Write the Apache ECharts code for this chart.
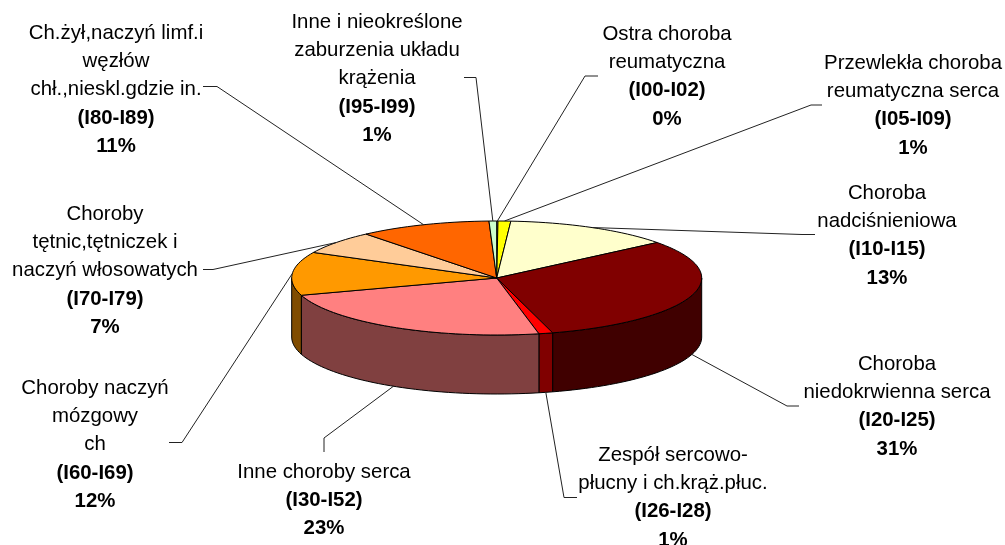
<!DOCTYPE html>
<html>
<head>
<meta charset="utf-8">
<style>
  html, body { margin: 0; padding: 0; background: #fff; }
  #pie-chart { width: 1005px; height: 545px; }
</style>
</head>
<body>
<div id="pie-chart"></div>
<script src="https://cdn.jsdelivr.net/npm/echarts@6/dist/echarts.min.js"></script>
<script>
// clockwise from 12 o'clock
const codes = ['(I00-I02)', '(I05-I09)', '(I10-I15)', '(I20-I25)', '(I26-I28)', '(I30-I52)', '(I60-I69)', '(I70-I79)', '(I80-I89)', '(I95-I99)']
const names = [
  ['Ostra choroba', 'reumatyczna'],
  ['Przewlekła choroba', 'reumatyczna serca'],
  ['Choroba', 'nadciśnieniowa'],
  ['Choroba', 'niedokrwienna serca'],
  ['Zespół sercowo-', 'płucny i ch.krąż.płuc.'],
  ['Inne choroby serca'],
  ['Choroby naczyń', 'mózgowy', 'ch'],
  ['Choroby', 'tętnic,tętniczek i', 'naczyń włosowatych'],
  ['Ch.żył,naczyń limf.i', 'węzłów', 'chł.,nieskl.gdzie in.'],
  ['Inne i nieokreślone', 'zaburzenia układu', 'krążenia']
]
const shares = [0.1, 1.0, 13.2, 31.3, 1.1, 23.4, 12.3, 6.6, 10.4, 0.6]
const percents = ['0%', '1%', '13%', '31%', '1%', '23%', '12%', '7%', '11%', '1%']

const topColors = ['#FFFFFF', '#FFFF00', '#FFFFCC', '#800000', '#FF0000', '#FF8080', '#FF9900', '#FFCC99', '#FF6600', '#CCFFCC']
const sideColors = ['#808080', '#808000', '#808066', '#400000', '#800000', '#804040', '#804C00', '#806633', '#803300', '#668066']

// label block: centre x, centre y of first line / leader: elbow then tail end
const labelPos = [[667, 34], [913, 63], [887, 193], [897, 364], [673, 455], [324, 472], [95, 388], [105, 214], [116, 33], [377, 22]]
const leaderPos = [
  [[585, 76], [598, 76]],
  [[811, 105], [822, 105]],
  [[802, 234.5], [815, 234.5]],
  [[787, 406], [799, 406]],
  [[564, 497.5], [577, 497.5]],
  [[324, 438], [324, 452]],
  [[182, 442.5], [169, 442.5]],
  [[213, 269.5], [203, 269.5]],
  [[217, 86.5], [203, 86.5]],
  [[476, 77.5], [464, 77.5]]
]
const lineGap = 28.3
const depth = 59
const fontFamily = '"Liberation Sans", Arial, sans-serif'

const total = shares.reduce((a, b) => a + b, 0)
const angles = []
shares.reduce((sum, v) => {
  angles.push([sum / total * 360, (sum + v) / total * 360])
  return sum + v
}, 0)

// rim point on the unit circle, the squashed axes turn it into an ellipse
function rim (api, deg) {
  const r = deg * Math.PI / 180
  return api.coord([Math.sin(r), Math.cos(r)])
}

function arc (api, from, to) {
  const pts = []
  const n = Math.max(2, Math.ceil((to - from) / 2))
  for (let i = 0; i <= n; i++) pts.push(rim(api, from + (to - from) * i / n))
  return pts
}

function renderSlice (params, api) {
  const i = params.dataIndex
  const [a0, a1] = angles[i]
  const children = []
  const s0 = Math.max(a0, 90)
  const s1 = Math.min(a1, 270)
  if (s1 > s0) {
    const upper = arc(api, s0, s1)
    const lower = upper.map(p => [p[0], p[1] + depth]).reverse()
    children.push({
      type: 'polygon',
      shape: { points: upper.concat(lower) },
      style: { fill: sideColors[i], stroke: '#000', lineWidth: 1, lineJoin: 'round' }
    })
  }
  children.push({
    type: 'polygon',
    shape: { points: [api.coord([0, 0])].concat(arc(api, a0, a1)) },
    style: { fill: topColors[i], stroke: '#000', lineWidth: 1, lineJoin: 'round' }
  })
  return { type: 'group', children }
}

function renderLabel (params, api) {
  const i = params.dataIndex
  const mid = (angles[i][0] + angles[i][1]) / 2
  const anchor = rim(api, mid)
  if (mid > 90 && mid < 270) anchor[1] += depth
  const children = [{
    type: 'polyline',
    shape: { points: [anchor].concat(leaderPos[i]) },
    style: { fill: null, stroke: '#222', lineWidth: 1 }
  }]
  const lines = names[i].concat([codes[i], percents[i]])
  lines.forEach((text, k) => {
    children.push({
      type: 'text',
      style: {
        text,
        x: labelPos[i][0],
        y: labelPos[i][1] + k * lineGap,
        align: 'center',
        verticalAlign: 'middle',
        fill: '#000',
        font: (k >= names[i].length ? 'bold ' : '') + '20.4px ' + fontFamily
      }
    })
  })
  return { type: 'group', children }
}

const chart = echarts.init(document.getElementById('pie-chart'), null, { renderer: 'canvas' })
const seriesData = shares.map((v, i) => [i, v])
chart.setOption({
  animation: false,
  backgroundColor: '#fff',
  grid: { left: 291.7, top: 221, width: 410, height: 114 },
  xAxis: { type: 'value', min: -1, max: 1, show: false },
  yAxis: { type: 'value', min: -1, max: 1, show: false },
  series: [
    { type: 'custom', renderItem: renderSlice, data: seriesData, clip: false, silent: true, z: 2 },
    { type: 'custom', renderItem: renderLabel, data: seriesData, clip: false, silent: true, z: 3 }
  ]
})
</script>
</body>
</html>
